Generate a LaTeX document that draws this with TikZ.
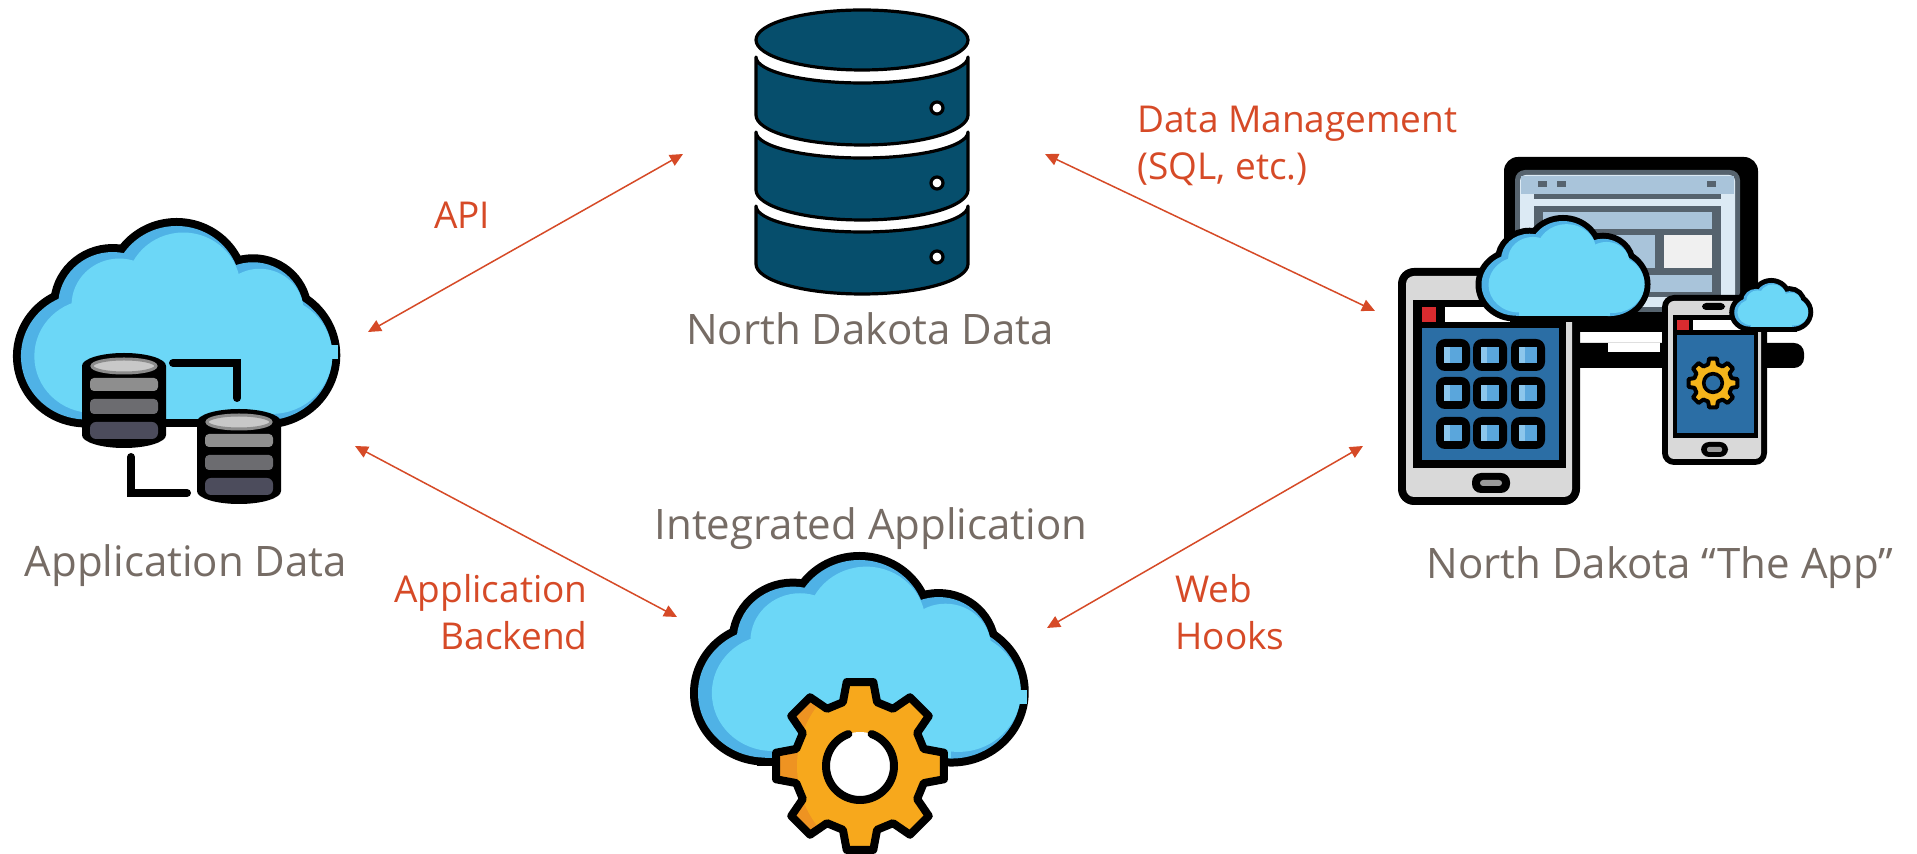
\documentclass[tikz,border=0pt]{standalone}
\usepackage{fontspec}
\setmainfont{Open Sans}
\usetikzlibrary{arrows.meta}

\definecolor{labelgray}{HTML}{766C65}
\definecolor{linkred}{HTML}{D64A27}
\definecolor{navy}{HTML}{064E6C}
\definecolor{skyL}{HTML}{6CD7F7}
\definecolor{skyD}{HTML}{4FB2E6}
\definecolor{orgL}{HTML}{F7A81C}
\definecolor{orgD}{HTML}{EE9322}
\definecolor{gold}{HTML}{F5B51B}
\definecolor{screenblue}{HTML}{2B6EA5}
\definecolor{iconblue}{HTML}{5AA6DC}
\definecolor{iconblueL}{HTML}{8CC6EC}
\definecolor{devgray}{HTML}{D9D9D9}
\definecolor{slate}{HTML}{56636E}
\definecolor{steel}{HTML}{A9C4DA}
\definecolor{paleblue}{HTML}{DCEAF4}
\definecolor{panelwhite}{HTML}{F0F0F0}
\definecolor{alertred}{HTML}{D92B2F}
\definecolor{dbtop}{HTML}{C8C8C8}
\definecolor{dbrim}{HTML}{8C8C8C}
\definecolor{dbA}{HTML}{8E8E8E}
\definecolor{dbB}{HTML}{6C6C70}
\definecolor{dbC}{HTML}{4C4C5C}
\definecolor{btngray}{HTML}{9A9A9A}

\tikzset{
  link/.style={draw=linkred, line width=0.75pt,
    {Triangle[length=6.5pt,width=6pt]}-{Triangle[length=6.5pt,width=6pt]}},
  caption/.style={text=labelgray, font=\fontsize{21}{25}\selectfont, inner sep=0pt, anchor=base},
  linklabel/.style={text=linkred, font=\fontsize{18.5}{23.5}\selectfont, inner sep=0pt},
}

% one layer of the cloud: five lobes and a bottom block; #2 insets the lobes to the right
\newcommand\cloudlayer[2]{%
  \path[#1] (69+#2,140) circle[radius=68-#2];
  \path[#1] (97+#2,85) circle[radius=57-#2];
  \path[#1] (164+#2,67) circle[radius=67-#2];
  \path[#1] (244+#2,92) circle[radius=53-#2];
  \path[#1] (257+#2,139) circle[radius=70-#2];
  \path[#1] (69+#2,100) rectangle (257,208);
}
% cloud at (#1,#2) with scales #3,#4 and outline stroke #5
\newcommand\skycloud[5]{%
  \begin{scope}[shift={(#1,#2)}, xscale=#3, yscale=#4]
    \cloudlayer{draw=black, fill=black, line width=#5}{0}
    \cloudlayer{fill=skyD}{0}
    \cloudlayer{fill=skyL}{7}
  \end{scope}}

% eight-tooth gear outline around the origin
\newcommand\geartrace{(-15:66) \foreach \a in {0,45,...,315}{ -- ({\a-15}:66) -- ({\a-9}:85) -- ({\a+9}:85) -- ({\a+15}:66)} -- cycle}

% small grey database cylinder, top-left corner at (#1,#2)
\newcommand\minidb[2]{%
  \begin{scope}[shift={(#1,#2)}]
    \fill[black] (0,13) arc[start angle=180,end angle=360,x radius=42,y radius=13]
      -- (84,82) arc[start angle=0,end angle=180,x radius=42,y radius=13] -- cycle;
    \fill[dbtop, draw=dbrim, line width=1.5pt] (42,13) ellipse[x radius=32, y radius=7];
    \fill[dbA, rounded corners=2pt] (8,25) rectangle (76,38);
    \fill[dbB, rounded corners=2pt] (8,46) rectangle (76,61);
    \fill[dbC, rounded corners=3pt] (8,69) rectangle (76,86);
  \end{scope}}

\begin{document}
\begin{tikzpicture}[x=0.5pt,y=-0.5pt]
\fill[white] (0,0) rectangle (1917,854);
\useasboundingbox (0,0) rectangle (1917,854);

% ---------- North Dakota Data: stacked database ----------
\foreach \y in {206,132,57} {
  \draw[fill=navy, line width=1.6pt, line join=round]
    (756,\y) -- (756,\y+58)
    arc[start angle=180,end angle=0,x radius=106,y radius=30]
    -- (968,\y)
    arc[start angle=0,end angle=180,x radius=106,y radius=26] -- cycle;
  \draw[fill=white, line width=1.6pt] (937,\y+51) circle[radius=6];
}
\draw[fill=navy, line width=1.6pt] (862,40) ellipse[x radius=106, y radius=30];

% ---------- Application Data: cloud with two databases ----------
\skycloud{20}{226}{0.955}{0.93}{8pt}
\begin{scope}[shift={(20,226)}, xscale=0.955, yscale=0.93]
  \fill[skyL] (318,128) rectangle (333,143);
\end{scope}
\draw[line width=4pt, line cap=round] (173,363) -- (237,363) -- (237,398);
\draw[line width=4pt, line cap=round] (131,457) -- (131,493) -- (187,493);
\minidb{82}{353}
\minidb{197}{409}

% ---------- Integrated Application: cloud with gear ----------
\skycloud{697}{560}{0.99}{0.95}{8pt}
\begin{scope}[shift={(697,560)}, xscale=0.99, yscale=0.95]
  \fill[skyL] (318,137) rectangle (333,152);
\end{scope}
\begin{scope}[shift={(860,766)}]
  \begin{scope}
    \clip \geartrace;
    \fill[orgD] (-100,-100) rectangle (100,100);
    \fill[orgL] (36,0) circle[radius=99];
  \end{scope}
  \draw[line width=4pt, line join=round] \geartrace;
  \fill[white] (0,0) circle[radius=34];
  \draw[line width=4pt, line cap=round] (-70:34) arc[start angle=-70, end angle=250, radius=34];
\end{scope}

% ---------- North Dakota "The App": laptop, tablet, phone ----------
% laptop base
\fill[black, rounded corners=5pt] (1560,343) rectangle (1804,368);
\fill[white] (1608,343) rectangle (1660,352);
% laptop lid and screen
\fill[black, rounded corners=7pt] (1504,157) rectangle (1758,332);
\fill[slate, rounded corners=5pt] (1515,170) rectangle (1740,312);
\fill[paleblue, rounded corners=3pt] (1520,175) rectangle (1735,307);
\fill[steel] (1521,176) rectangle (1734,194);
\fill[slate] (1538,181) rectangle (1547,187);
\fill[slate] (1557,181) rectangle (1566,187);
\fill[slate] (1707,181) rectangle (1716,187);
\fill[slate] (1534,194) rectangle (1721,199);
\fill[slate] (1534,206) rectangle (1721,297);
\fill[steel] (1543,212) rectangle (1712,229);
\fill[steel] (1543,235) rectangle (1655,268);
\fill[panelwhite] (1664,235) rectangle (1712,268);
\fill[steel] (1543,275) rectangle (1712,292);

% tablet
\fill[black, rounded corners=8pt] (1398,268) rectangle (1580,505);
\fill[devgray, rounded corners=4pt] (1406,276) rectangle (1572,497);
\fill[black] (1413,300) rectangle (1566,468);
\fill[alertred] (1422,307) rectangle (1436,322);
\fill[white] (1445,307) rectangle (1559,322);
\fill[screenblue] (1422,328) rectangle (1559,460);
\foreach \cx in {1453,1490,1528} {
  \foreach \cy in {355,393,433} {
    \fill[black, rounded corners=4.5pt] (\cx-17,\cy-16) rectangle (\cx+17,\cy+16);
    \fill[iconblue] (\cx-9,\cy-8) rectangle (\cx+9,\cy+8);
    \fill[iconblueL] (\cx-9,\cy-8) rectangle (\cx-3,\cy+8);
  }
}
\fill[black, rounded corners=4.5pt] (1472,473) rectangle (1510,493);
\fill[btngray, rounded corners=1.5pt] (1480,480) rectangle (1502,486);

% phone
\fill[black, rounded corners=6pt] (1662,295) rectangle (1767,465);
\fill[devgray, rounded corners=3pt] (1668,301) rectangle (1761,459);
\fill[black, rounded corners=2pt] (1702,303) rectangle (1725,310);
\fill[black] (1673,315) rectangle (1758,438);
\fill[alertred] (1677,320) rectangle (1689,330);
\fill[white] (1693,320) rectangle (1754,330);
\fill[screenblue] (1677,335) rectangle (1754,433);
\begin{scope}[shift={(1713,383)}, scale=0.29]
  \draw[fill=gold, line width=2pt, line join=round] \geartrace;
  \draw[fill=screenblue, line width=1.8pt] (0,0) circle[radius=32];
\end{scope}
\fill[black, rounded corners=4pt] (1701,442) rectangle (1728,457);
\fill[btngray, rounded corners=1pt] (1707,447) rectangle (1722,452);

% clouds over the devices
\skycloud{1481}{221}{0.5}{0.455}{6pt}
\skycloud{1734}{283}{0.227}{0.21}{5pt}

% ---------- captions ----------
\node[caption] (ndd) at (870,345) {North Dakota Data};
\node[caption] (appdata) at (186,577) {Application Data};
\node[caption] (integ) at (871,540) {Integrated Application};
\node[caption] (theapp) at (1660,579) {North Dakota “The App”};

% ---------- connector labels (base anchor sits on the last line) ----------
\node[linklabel, anchor=base] (apilbl) at (462,229) {API};
\node[linklabel, anchor=base west, align=left] (dmlbl) at (1137,180) {Data Management\\(SQL, etc.)};
\node[linklabel, anchor=base east, align=right] (ablbl) at (588,650) {Application\\Backend};
\node[linklabel, anchor=base west, align=left] (whlbl) at (1175,650) {Web\\Hooks};

% ---------- connectors ----------
\coordinate (api-cloud) at (368,332);
\coordinate (api-db) at (683,154);
\coordinate (dm-db) at (1045,154);
\coordinate (dm-app) at (1375,311);
\coordinate (ab-cloud) at (355,446);
\coordinate (ab-integ) at (677,617);
\coordinate (wh-integ) at (1047,628);
\coordinate (wh-app) at (1363,446);
\draw[link] (api-cloud) -- (api-db);
\draw[link] (dm-db) -- (dm-app);
\draw[link] (ab-cloud) -- (ab-integ);
\draw[link] (wh-integ) -- (wh-app);
\end{tikzpicture}
\end{document}
